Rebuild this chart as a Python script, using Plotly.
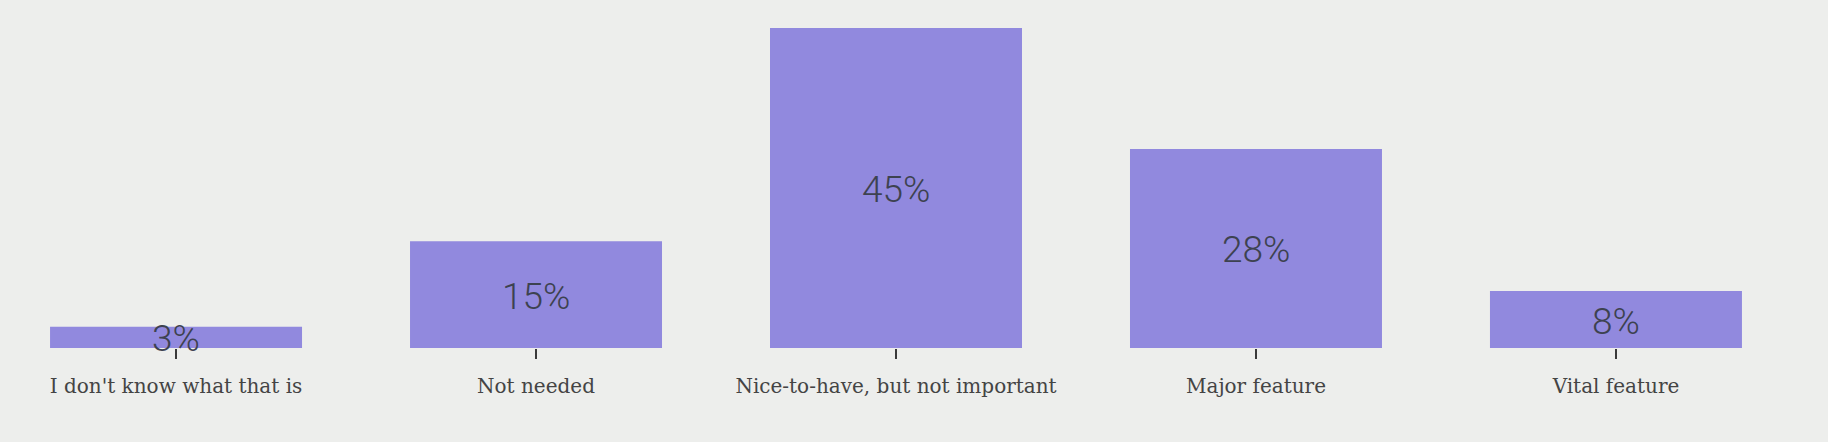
import plotly.graph_objects as go

categories = ["I don't know what that is", "Not needed", "Nice-to-have, but not important", "Major feature", "Vital feature"]
values = [3, 15, 45, 28, 8]
labels = ["3%", "15%", "45%", "28%", "8%"]

BG = "#edeeec"
BAR = "#9189de"
TXT = "#3d4250"

fig = go.Figure()
fig.add_trace(go.Bar(
    x=categories, y=values, marker_color=BAR, marker_line_width=0,
    hoverinfo="skip", showlegend=False,
))

for cat, v, lab in zip(categories, values, labels):
    fig.add_annotation(
        x=cat, y=v / 2, text=lab, showarrow=False,
        xanchor="center", yanchor="middle", yshift=-1.5,
        font=dict(family="Roboto", size=37, color=TXT, weight=300),
    )

fig.update_layout(
    width=1828, height=442,
    paper_bgcolor=BG, plot_bgcolor=BG,
    margin=dict(l=0, r=0, t=28, b=94),
    bargap=0.3,
    xaxis=dict(
        type="category", range=[-0.489, 4.589],
        showgrid=False, zeroline=False, showline=False,
        ticks="outside", ticklen=10, tickwidth=2, tickcolor="#3a3a3a",
        ticklabelstandoff=10,
        tickfont=dict(family="Roboto Slab, DejaVu Serif", size=20, color="#444"),
        fixedrange=True,
    ),
    yaxis=dict(
        range=[0, 45], visible=False, showgrid=False, zeroline=False,
        fixedrange=True,
    ),
)

fig.write_html(
    "out.html",
    config={"displayModeBar": False},
    post_script="document.body.style.margin='0';document.body.style.background='%s';" % BG,
)
